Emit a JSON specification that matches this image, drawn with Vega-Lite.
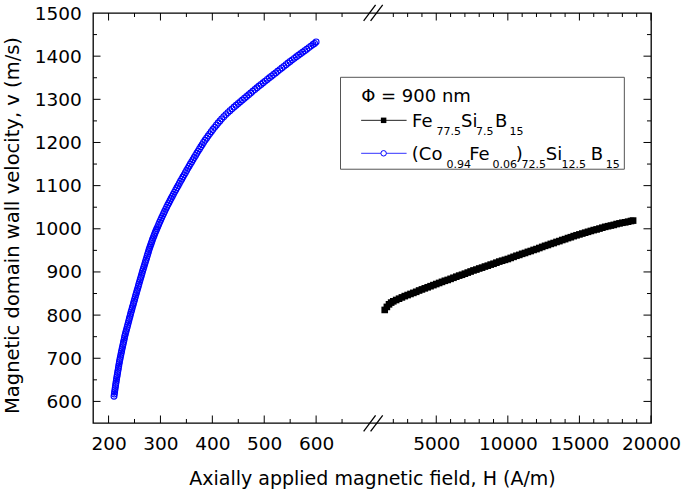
{
  "$schema": "https://vega.github.io/schema/vega-lite/v6.json",
  "width": 558,
  "height": 410,
  "autosize": {"type": "none"},
  "padding": {"left": 93, "top": 13, "right": 34, "bottom": 70},
  "background": "white",
  "config": {
    "font": "DejaVu Sans",
    "view": {"stroke": "black", "strokeWidth": 1.3},
    "axis": {
      "grid": false,
      "domain": false,
      "ticks": false,
      "tickSize": 0,
      "labelColor": "black",
      "labelFont": "DejaVu Sans",
      "labelFontSize": 18.5,
      "titleFont": "DejaVu Sans",
      "titleFontSize": 19,
      "titleFontWeight": "normal",
      "titleColor": "black",
      "labelOverlap": false,
      "labelFlush": false,
      "format": "d"
    }
  },
  "datasets": {
    "co": [
      {"H":210.5,"v":612},{"H":211.1,"v":617},{"H":211.7,"v":622},{"H":212.3,"v":627},{"H":212.9,"v":632},
      {"H":213.5,"v":637},{"H":214.1,"v":642},{"H":214.8,"v":647},{"H":215.4,"v":652},{"H":216.1,"v":657},
      {"H":216.8,"v":662},{"H":217.5,"v":667},{"H":218.2,"v":672},{"H":218.9,"v":677},{"H":219.6,"v":682},
      {"H":220.3,"v":687},{"H":221,"v":692},{"H":221.8,"v":697},{"H":222.6,"v":702},{"H":223.5,"v":707},
      {"H":224.4,"v":712},{"H":225.2,"v":717},{"H":226.1,"v":722},{"H":227,"v":727},{"H":227.9,"v":732},
      {"H":228.8,"v":737},{"H":229.7,"v":742},{"H":230.6,"v":747},{"H":231.4,"v":752},{"H":232.5,"v":757},
      {"H":233.6,"v":762},{"H":234.7,"v":767},{"H":235.8,"v":772},{"H":236.9,"v":777},{"H":238,"v":782},
      {"H":239,"v":787},{"H":240.1,"v":792},{"H":241.2,"v":797},{"H":242.3,"v":802},{"H":243.4,"v":807},
      {"H":244.6,"v":812},{"H":245.7,"v":817},{"H":246.9,"v":822},{"H":248,"v":827},{"H":249.2,"v":832},
      {"H":250.3,"v":837},{"H":251.5,"v":842},{"H":252.6,"v":847},{"H":253.8,"v":852},{"H":255,"v":857},
      {"H":256.2,"v":862},{"H":257.4,"v":867},{"H":258.5,"v":872},{"H":259.7,"v":877},{"H":260.9,"v":882},
      {"H":262.1,"v":887},{"H":263.3,"v":892},{"H":264.5,"v":897},{"H":265.7,"v":902},{"H":266.9,"v":907},
      {"H":268.2,"v":912},{"H":269.4,"v":917},{"H":270.7,"v":922},{"H":271.9,"v":927},{"H":273.2,"v":932},
      {"H":274.4,"v":937},{"H":275.6,"v":942},{"H":276.9,"v":947},{"H":278.1,"v":952},{"H":279.4,"v":956.5},
      {"H":280.7,"v":961},{"H":282,"v":965.5},{"H":283.3,"v":970},{"H":284.6,"v":974.5},{"H":286,"v":979},
      {"H":287.4,"v":983.5},{"H":288.8,"v":988},{"H":290.2,"v":992},{"H":291.6,"v":996},{"H":293,"v":1000},
      {"H":294.8,"v":1005},{"H":296.6,"v":1010},{"H":298.4,"v":1015},{"H":300.2,"v":1020},{"H":302.1,"v":1025},
      {"H":304,"v":1030},{"H":305.9,"v":1035},{"H":307.9,"v":1040},{"H":309.9,"v":1045},{"H":311.9,"v":1050},
      {"H":314,"v":1055},{"H":316.1,"v":1060},{"H":318.3,"v":1065},{"H":320.5,"v":1070},{"H":322.7,"v":1075},
      {"H":324.9,"v":1080},{"H":327.1,"v":1085},{"H":329.4,"v":1090},{"H":331.7,"v":1095},{"H":334,"v":1100},
      {"H":336.3,"v":1105},{"H":338.6,"v":1110},{"H":341,"v":1115},{"H":343.3,"v":1120},{"H":345.7,"v":1125},
      {"H":348,"v":1130},{"H":350.4,"v":1135},{"H":352.8,"v":1140},{"H":355.2,"v":1145},{"H":357.6,"v":1150},
      {"H":360.1,"v":1155},{"H":362.6,"v":1160},{"H":365.1,"v":1165},{"H":367.6,"v":1170},{"H":370.1,"v":1175},
      {"H":372.6,"v":1180},{"H":375.2,"v":1185},{"H":377.8,"v":1190},{"H":380.4,"v":1195},{"H":383,"v":1200},
      {"H":385.9,"v":1205},{"H":388.8,"v":1210},{"H":391.8,"v":1215},{"H":394.8,"v":1220},{"H":397.9,"v":1225},
      {"H":401,"v":1230},{"H":404.3,"v":1235},{"H":407.7,"v":1240},{"H":411.1,"v":1245},{"H":414.6,"v":1250},
      {"H":418,"v":1254.7},{"H":422,"v":1259.8},{"H":426,"v":1264.6},{"H":430,"v":1269.2},{"H":434,"v":1273.6},
      {"H":438,"v":1277.9},{"H":442,"v":1282.1},{"H":446,"v":1286.2},{"H":450,"v":1290.3},{"H":454,"v":1294.4},
      {"H":458,"v":1298.4},{"H":462,"v":1302.5},{"H":466,"v":1306.5},{"H":470,"v":1310.6},{"H":474,"v":1314.6},
      {"H":478,"v":1318.7},{"H":482,"v":1322.7},{"H":486,"v":1326.8},{"H":490,"v":1330.8},{"H":494,"v":1334.6},
      {"H":498,"v":1338.4},{"H":502,"v":1342.2},{"H":506,"v":1346},{"H":510,"v":1349.8},{"H":514,"v":1353.6},
      {"H":518,"v":1357.4},{"H":522,"v":1361.2},{"H":526,"v":1365},{"H":530,"v":1368.8},{"H":534,"v":1372.6},
      {"H":538,"v":1376.4},{"H":542,"v":1380.2},{"H":546,"v":1384},{"H":550,"v":1387.8},{"H":554,"v":1391.4},
      {"H":558,"v":1394.9},{"H":562,"v":1398.5},{"H":566,"v":1402},{"H":570,"v":1405.6},{"H":574,"v":1409.1},
      {"H":578,"v":1412.7},{"H":582,"v":1416.2},{"H":586,"v":1419.8},{"H":590,"v":1423.3},{"H":594,"v":1426.9},
      {"H":597,"v":1429.5},{"H":600,"v":1433}
    ],
    "fe": [
      {"H":1400,"v":812},{"H":1550,"v":819},{"H":1700,"v":825},{"H":1850,"v":829},{"H":2000,"v":832},
      {"H":2200,"v":835},{"H":2400,"v":838},{"H":2600,"v":841},{"H":2800,"v":844},{"H":3000,"v":846.5},
      {"H":3200,"v":849},{"H":3400,"v":851.5},{"H":3600,"v":854},{"H":3800,"v":857},{"H":4000,"v":859.5},
      {"H":4200,"v":862},{"H":4400,"v":864.5},{"H":4600,"v":867},{"H":4800,"v":869.5},{"H":5000,"v":872},
      {"H":5200,"v":874.5},{"H":5400,"v":877},{"H":5600,"v":879.5},{"H":5800,"v":881.5},{"H":6000,"v":884},
      {"H":6200,"v":886.5},{"H":6400,"v":889},{"H":6600,"v":891.5},{"H":6800,"v":893.5},{"H":7000,"v":896},
      {"H":7200,"v":898.5},{"H":7400,"v":901},{"H":7600,"v":903.5},{"H":7800,"v":905.5},{"H":8000,"v":908},
      {"H":8200,"v":910},{"H":8400,"v":912.5},{"H":8600,"v":914.5},{"H":8800,"v":917},{"H":9000,"v":919},
      {"H":9200,"v":921.5},{"H":9400,"v":924},{"H":9600,"v":926},{"H":9800,"v":928},{"H":10000,"v":930},
      {"H":10200,"v":932.5},{"H":10400,"v":935},{"H":10600,"v":937.5},{"H":10800,"v":939.5},{"H":11000,"v":942},
      {"H":11200,"v":944},{"H":11400,"v":946.5},{"H":11600,"v":948.5},{"H":11800,"v":951},{"H":12000,"v":953},
      {"H":12200,"v":955.5},{"H":12400,"v":958},{"H":12600,"v":960.5},{"H":12800,"v":962.5},{"H":13000,"v":965},
      {"H":13200,"v":967},{"H":13400,"v":969.5},{"H":13600,"v":971.5},{"H":13800,"v":974},{"H":14000,"v":976},
      {"H":14200,"v":978.5},{"H":14400,"v":980.5},{"H":14600,"v":983},{"H":14800,"v":985},{"H":15000,"v":987},
      {"H":15200,"v":989},{"H":15400,"v":991},{"H":15600,"v":993},{"H":15800,"v":995},{"H":16000,"v":997},
      {"H":16200,"v":998.5},{"H":16400,"v":1000.5},{"H":16600,"v":1002.5},{"H":16800,"v":1004.5},{"H":17000,"v":1006},
      {"H":17200,"v":1007.5},{"H":17400,"v":1009},{"H":17600,"v":1011},{"H":17800,"v":1012.5},{"H":18000,"v":1014},
      {"H":18200,"v":1015},{"H":18400,"v":1016.5},{"H":18600,"v":1018},{"H":18750,"v":1019}
    ],
    "xmaj": [{"H":200},{"H":300},{"H":400},{"H":500},{"H":600},{"H":5000},{"H":10000},{"H":15000},{"H":20000}],
    "xmin": [{"H":250},{"H":350},{"H":450},{"H":550},{"H":650},{"H":2000},{"H":3000},{"H":4000},{"H":6000},{"H":7000},{"H":8000},{"H":9000},{"H":11000},{"H":12000},{"H":13000},{"H":14000},{"H":16000},{"H":17000},{"H":18000},{"H":19000}],
    "ymaj": [{"v":600},{"v":700},{"v":800},{"v":900},{"v":1000},{"v":1100},{"v":1200},{"v":1300},{"v":1400}],
    "ymin": [{"v":650},{"v":750},{"v":850},{"v":950},{"v":1050},{"v":1150},{"v":1250},{"v":1350},{"v":1450}],
    "brk": [
      {"x":691.6,"x2":907,"y":530.8,"y2":567.8},
      {"x":771,"x2":1258,"y":530.8,"y2":567.8},
      {"x":691.6,"x2":907,"y":1482,"y2":1519},
      {"x":771,"x2":1258,"y":1482,"y2":1519}
    ],
    "legline": [
      {"x":686.8,"x2":2928,"y":1251.3,"c":"fe"},
      {"x":686.8,"x2":2928,"y":1174.9,"c":"co"}
    ],
    "legtxt": [
      {"t":"Φ = 900 nm","x":686.8,"y":1293.7,"s":0},
      {"t":"Fe","x":3312,"y":1236.3,"s":0},
      {"t":"77.5","x":5021,"y":1216.6,"s":1},
      {"t":"Si","x":6730,"y":1236.3,"s":0},
      {"t":"7.5","x":7777,"y":1216.6,"s":1},
      {"t":"B","x":9102,"y":1236.3,"s":0},
      {"t":"15","x":10114,"y":1216.6,"s":1},
      {"t":"(Co","x":3291,"y":1159.8,"s":0},
      {"t":"0.94","x":5719,"y":1141.7,"s":1},
      {"t":"Fe","x":7302,"y":1159.8,"s":0},
      {"t":"0.06","x":8928,"y":1141.7,"s":1},
      {"t":")","x":10554,"y":1159.8,"s":0},
      {"t":"72.5","x":10951,"y":1141.7,"s":1},
      {"t":"Si","x":12647,"y":1159.8,"s":0},
      {"t":"12.5","x":13742,"y":1141.7,"s":1},
      {"t":"B","x":15786,"y":1159.8,"s":0},
      {"t":"15","x":16833,"y":1141.7,"s":1}
    ]
  },
  "layer": [
    {
      "data": {"name": "co"},
      "mark": {"type": "line", "color": "#0000ff", "strokeWidth": 1},
      "encoding": {
        "x": {
          "field": "H", "type": "quantitative",
          "scale": {"type": "linear", "domain": [170, 700, 1000, 20000], "range": [0, 275, 286, 558], "nice": false, "zero": false},
          "axis": {
            "orient": "bottom",
            "title": "Axially applied magnetic field, H (A/m)",
            "titlePadding": 16,
            "values": [200,300,400,500,600,5000,10000,15000,20000],
            "labelPadding": 11.5
          }
        },
        "y": {
          "field": "v", "type": "quantitative",
          "scale": {"domain": [550, 1500], "nice": false, "zero": false},
          "axis": {
            "orient": "left",
            "title": "Magnetic domain wall velocity, v (m/s)",
            "titleFontSize": 19.5,
            "titlePadding": 12,
            "titleY": 212,
            "values": [600,700,800,900,1000,1100,1200,1300,1400,1500],
            "labelPadding": 11.6
          }
        }
      }
    },
    {
      "data": {"name": "co"},
      "mark": {"type": "point", "shape": "circle", "filled": false, "stroke": "#0000ff", "strokeWidth": 1.1, "size": 34, "opacity": 1},
      "encoding": {
        "x": {"field": "H", "type": "quantitative"},
        "y": {"field": "v", "type": "quantitative"}
      }
    },
    {
      "data": {"name": "fe"},
      "mark": {"type": "line", "color": "black", "strokeWidth": 1},
      "encoding": {
        "x": {"field": "H", "type": "quantitative"},
        "y": {"field": "v", "type": "quantitative"}
      }
    },
    {
      "data": {"name": "fe"},
      "mark": {"type": "point", "shape": "square", "filled": true, "color": "black", "size": 44, "opacity": 1},
      "encoding": {
        "x": {"field": "H", "type": "quantitative"},
        "y": {"field": "v", "type": "quantitative"}
      }
    },
    {
      "data": {"name": "xmaj"},
      "mark": {"type": "rule", "color": "black", "strokeWidth": 1},
      "encoding": {
        "x": {"field": "H", "type": "quantitative"},
        "y": {"datum": 550, "type": "quantitative"},
        "y2": {"datum": 567.4}
      }
    },
    {
      "data": {"name": "xmaj"},
      "mark": {"type": "rule", "color": "black", "strokeWidth": 1},
      "encoding": {
        "x": {"field": "H", "type": "quantitative"},
        "y": {"datum": 1500, "type": "quantitative"},
        "y2": {"datum": 1482.6}
      }
    },
    {
      "data": {"name": "xmin"},
      "mark": {"type": "rule", "color": "black", "strokeWidth": 1},
      "encoding": {
        "x": {"field": "H", "type": "quantitative"},
        "y": {"datum": 550, "type": "quantitative"},
        "y2": {"datum": 559.3}
      }
    },
    {
      "data": {"name": "xmin"},
      "mark": {"type": "rule", "color": "black", "strokeWidth": 1},
      "encoding": {
        "x": {"field": "H", "type": "quantitative"},
        "y": {"datum": 1500, "type": "quantitative"},
        "y2": {"datum": 1490.7}
      }
    },
    {
      "data": {"name": "ymaj"},
      "mark": {"type": "rule", "color": "black", "strokeWidth": 1},
      "encoding": {
        "y": {"field": "v", "type": "quantitative"},
        "x": {"datum": 170, "type": "quantitative"},
        "x2": {"datum": 184.5}
      }
    },
    {
      "data": {"name": "ymaj"},
      "mark": {"type": "rule", "color": "black", "strokeWidth": 1},
      "encoding": {
        "y": {"field": "v", "type": "quantitative"},
        "x": {"datum": 19476, "type": "quantitative"},
        "x2": {"datum": 20000}
      }
    },
    {
      "data": {"name": "ymin"},
      "mark": {"type": "rule", "color": "black", "strokeWidth": 1},
      "encoding": {
        "y": {"field": "v", "type": "quantitative"},
        "x": {"datum": 170, "type": "quantitative"},
        "x2": {"datum": 177.7}
      }
    },
    {
      "data": {"name": "ymin"},
      "mark": {"type": "rule", "color": "black", "strokeWidth": 1},
      "encoding": {
        "y": {"field": "v", "type": "quantitative"},
        "x": {"datum": 19720, "type": "quantitative"},
        "x2": {"datum": 20000}
      }
    },
    {
      "data": {"name": "brk"},
      "mark": {"type": "rule", "color": "black", "strokeWidth": 1.3},
      "encoding": {
        "x": {"field": "x", "type": "quantitative"},
        "x2": {"field": "x2"},
        "y": {"field": "y", "type": "quantitative"},
        "y2": {"field": "y2"}
      }
    },
    {
      "data": {"values": [{}]},
      "mark": {"type": "rect", "fill": "white", "stroke": "#555555", "strokeWidth": 1},
      "encoding": {
        "x": {"datum": 647, "type": "quantitative"},
        "x2": {"datum": 18137},
        "y": {"datum": 1351, "type": "quantitative"},
        "y2": {"datum": 1138}
      }
    },
    {
      "data": {"name": "legline"},
      "mark": {"type": "rule", "strokeWidth": 1},
      "encoding": {
        "x": {"field": "x", "type": "quantitative"},
        "x2": {"field": "x2"},
        "y": {"field": "y", "type": "quantitative"},
        "color": {"field": "c", "type": "nominal", "scale": {"domain": ["fe", "co"], "range": ["#222222", "#3333ff"]}, "legend": null}
      }
    },
    {
      "data": {"values": [{}]},
      "mark": {"type": "point", "shape": "square", "filled": true, "color": "black", "size": 30, "opacity": 1},
      "encoding": {
        "x": {"datum": 1323, "type": "quantitative"},
        "y": {"datum": 1251.3, "type": "quantitative"}
      }
    },
    {
      "data": {"values": [{}]},
      "mark": {"type": "point", "shape": "circle", "filled": true, "fill": "white", "stroke": "#0000ff", "strokeWidth": 1, "size": 30, "opacity": 1},
      "encoding": {
        "x": {"datum": 1323, "type": "quantitative"},
        "y": {"datum": 1174.9, "type": "quantitative"}
      }
    },
    {
      "data": {"name": "legtxt"},
      "transform": [{"filter": "datum.s == 0"}],
      "mark": {"type": "text", "align": "left", "baseline": "alphabetic", "fontSize": 18, "font": "DejaVu Sans", "color": "black"},
      "encoding": {
        "x": {"field": "x", "type": "quantitative"},
        "y": {"field": "y", "type": "quantitative"},
        "text": {"field": "t"}
      }
    },
    {
      "data": {"name": "legtxt"},
      "transform": [{"filter": "datum.s == 1"}],
      "mark": {"type": "text", "align": "left", "baseline": "alphabetic", "fontSize": 11, "font": "DejaVu Sans", "color": "black"},
      "encoding": {
        "x": {"field": "x", "type": "quantitative"},
        "y": {"field": "y", "type": "quantitative"},
        "text": {"field": "t"}
      }
    }
  ]
}
